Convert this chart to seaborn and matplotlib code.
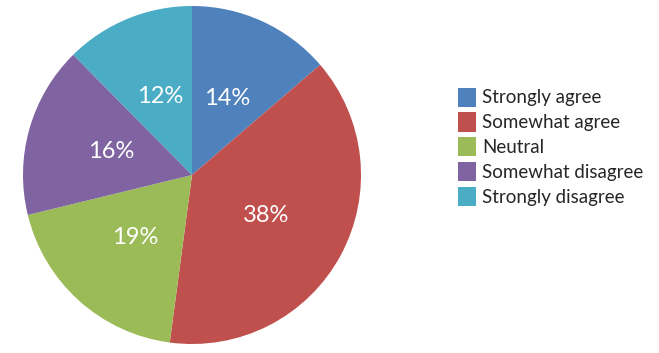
import matplotlib
matplotlib.use("Agg")
import matplotlib.pyplot as plt
import seaborn as sns
import numpy as np
from matplotlib.patches import Patch

sns.set_theme(style="white")
plt.rcParams['font.family'] = ['Lato', 'DejaVu Sans']

categories = ["Strongly agree", "Somewhat agree", "Neutral", "Somewhat disagree", "Strongly disagree"]
values = [13.7, 38.4, 19.1, 16.4, 12.4]
colors = ["#4F81BD", "#C0504D", "#9BBB59", "#8064A2", "#4BACC6"]

W, H = 659, 353
fig = plt.figure(figsize=(W / 100, H / 100), dpi=100)
cx, cy, r = 192, 175, 169
ax = fig.add_axes([(cx - r) / W, (H - cy - r) / H, 2 * r / W, 2 * r / H])

total = sum(values)
wedges, _ = ax.pie(values, colors=colors, startangle=90, counterclock=False,
                   radius=1.0, wedgeprops=dict(edgecolor="none"))
for w, v in zip(wedges, values):
    ang = np.deg2rad((w.theta1 + w.theta2) / 2)
    ax.text(0.5 * np.cos(ang), 0.5 * np.sin(ang), f"{round(100 * v / total)}%",
            color="white", fontsize=17, ha="center", va="center")
ax.set_xlim(-1, 1)
ax.set_ylim(-1, 1)
ax.axis("off")

handles = [Patch(facecolor=c, edgecolor="none") for c in colors]
fig.legend(handles, categories, loc="upper left",
           bbox_to_anchor=(450 / W, 1 - 80 / H), frameon=False,
           fontsize=13.5, handlelength=1.0, handleheight=1.2,
           handletextpad=0.3, labelspacing=0.3, borderaxespad=0)

fig.savefig("out.png", dpi=100)
